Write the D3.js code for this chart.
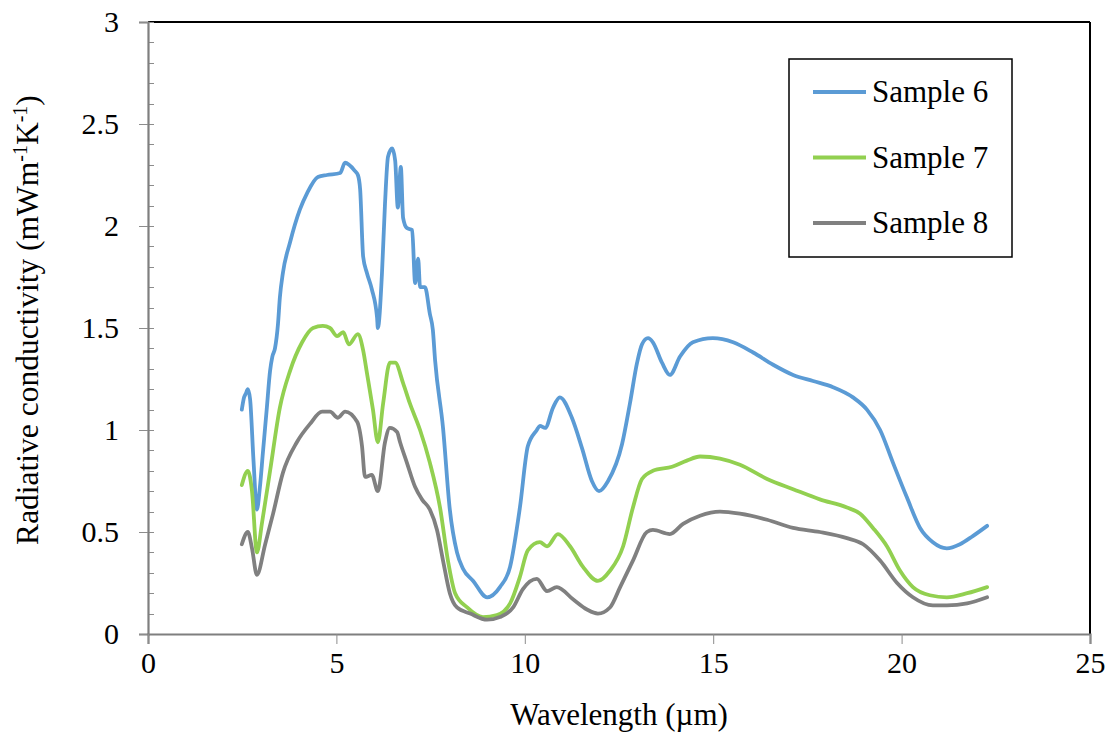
<!DOCTYPE html>
<html>
<head>
<meta charset="utf-8">
<script src="https://cdn.jsdelivr.net/npm/d3@7"></script>
<style>
  html, body { margin: 0; padding: 0; background: #fff; }
  svg { display: block; font-family: "Liberation Serif", "Times New Roman", serif; }
</style>
</head>
<body>
<svg id="chart" width="1113" height="735"></svg>
<script>
// ---- data ----
const seriesNames = ["Sample 6", "Sample 7", "Sample 8"];
const seriesColors = ["#5B9BD5", "#92D050", "#808080"];

const sample6 = [
  [2.49,1.10],[2.55,1.16],[2.60,1.18],[2.65,1.20],[2.71,1.15],[2.80,0.85],[2.89,0.61],[2.97,0.72],
  [3.05,0.89],[3.15,1.10],[3.24,1.29],[3.30,1.36],[3.37,1.40],[3.45,1.52],[3.50,1.65],[3.58,1.77],
  [3.77,1.92],[4.03,2.08],[4.22,2.16],[4.51,2.24],[4.75,2.25],[5.10,2.26],[5.23,2.31],[5.49,2.27],
  [5.57,2.25],[5.63,2.18],[5.71,1.85],[5.81,1.77],[5.94,1.69],[6.08,1.55],[6.10,1.50],[6.21,1.77],
  [6.29,2.11],[6.37,2.34],[6.48,2.38],[6.56,2.32],[6.63,2.09],[6.71,2.29],[6.77,2.04],[6.87,1.99],
  [7.01,1.98],[7.09,1.72],[7.17,1.84],[7.22,1.70],[7.35,1.70],[7.48,1.57],[7.56,1.49],[7.62,1.34],
  [7.83,1.01],[8.01,0.61],[8.20,0.40],[8.36,0.32],[8.63,0.26],[9.00,0.18],[9.34,0.23],[9.61,0.33],
  [9.87,0.62],[10.08,0.92],[10.32,1.00],[10.40,1.02],[10.54,1.01],[10.75,1.11],[10.93,1.16],
  [11.25,1.06],[11.52,0.91],[11.78,0.75],[11.97,0.70],[12.21,0.75],[12.58,0.93],[12.79,1.13],
  [12.98,1.33],[13.11,1.42],[13.27,1.45],[13.40,1.43],[13.64,1.33],[13.85,1.27],[14.12,1.36],
  [14.46,1.43],[14.99,1.45],[15.53,1.43],[16.06,1.38],[16.59,1.32],[17.12,1.27],[17.65,1.24],
  [18.18,1.21],[18.71,1.16],[19.08,1.10],[19.43,1.00],[19.77,0.84],[20.14,0.67],[20.49,0.52],
  [20.83,0.45],[21.20,0.42],[21.55,0.44],[21.89,0.48],[22.27,0.53]
];

const sample7 = [
  [2.49,0.73],[2.65,0.80],[2.76,0.70],[2.89,0.40],[3.03,0.55],[3.24,0.80],[3.50,1.11],[3.77,1.29],
  [4.09,1.43],[4.38,1.50],[4.64,1.51],[4.83,1.50],[5.02,1.46],[5.18,1.48],[5.33,1.42],[5.57,1.47],
  [5.71,1.39],[5.81,1.28],[5.97,1.10],[6.10,0.94],[6.24,1.13],[6.42,1.33],[6.56,1.33],[6.77,1.23],
  [6.95,1.13],[7.22,1.00],[7.48,0.84],[7.75,0.62],[7.96,0.36],[8.15,0.20],[8.47,0.13],[8.89,0.083],
  [9.26,0.093],[9.61,0.15],[9.87,0.28],[10.08,0.41],[10.40,0.45],[10.59,0.43],[10.88,0.49],
  [11.20,0.43],[11.54,0.33],[11.94,0.26],[12.26,0.31],[12.61,0.43],[12.87,0.62],[13.11,0.76],
  [13.40,0.80],[13.91,0.82],[14.30,0.85],[14.65,0.87],[15.18,0.86],[15.71,0.83],[16.43,0.76],
  [17.12,0.71],[17.83,0.66],[18.55,0.62],[18.90,0.59],[19.24,0.52],[19.61,0.43],[19.96,0.31],
  [20.30,0.23],[20.75,0.19],[21.20,0.18],[21.74,0.20],[22.27,0.23]
];

const sample8 = [
  [2.49,0.44],[2.65,0.50],[2.76,0.42],[2.89,0.29],[3.11,0.44],[3.32,0.59],[3.58,0.79],[3.95,0.94],
  [4.30,1.03],[4.62,1.09],[4.83,1.09],[5.04,1.06],[5.23,1.09],[5.55,1.04],[5.68,0.92],[5.76,0.77],
  [5.94,0.78],[6.10,0.70],[6.29,0.94],[6.42,1.01],[6.61,0.99],[6.69,0.94],[6.87,0.84],[7.09,0.72],
  [7.27,0.66],[7.48,0.61],[7.67,0.51],[7.83,0.36],[8.01,0.20],[8.20,0.13],[8.55,0.10],[9.00,0.07],
  [9.34,0.083],[9.69,0.13],[9.95,0.22],[10.32,0.27],[10.59,0.21],[10.85,0.23],[11.28,0.17],
  [11.65,0.12],[11.94,0.10],[12.26,0.13],[12.53,0.23],[12.87,0.36],[13.24,0.50],[13.40,0.51],
  [13.85,0.49],[14.20,0.54],[14.65,0.58],[15.18,0.60],[15.71,0.59],[16.43,0.56],[17.12,0.52],
  [17.83,0.50],[18.55,0.47],[18.98,0.44],[19.43,0.36],[19.88,0.25],[20.30,0.18],[20.83,0.14],
  [21.20,0.14],[21.74,0.15],[22.27,0.18]
];

const xTicks = [0, 5, 10, 15, 20, 25];
const yTicks = [0, 0.5, 1, 1.5, 2, 2.5, 3];
const yTickLabels = ["0", "0.5", "1", "1.5", "2", "2.5", "3"];
const yMinorTicks = d3.range(0, 3.0001, 0.1);

// ---- layout ----
const svg = d3.select("#chart");
const L = 148, R = 1090, T = 22, B = 634;
const x = d3.scaleLinear().domain([0, 25]).range([L, R]);
const y = d3.scaleLinear().domain([0, 3]).range([B, T]);

// frame (top & right black)
svg.append("line").attr("x1", L).attr("x2", R).attr("y1", T).attr("y2", T)
  .attr("stroke", "#000").attr("stroke-width", 2);
svg.append("line").attr("x1", R).attr("x2", R).attr("y1", T).attr("y2", B)
  .attr("stroke", "#000").attr("stroke-width", 2);

// minor y ticks (inside)
svg.append("g").selectAll("line").data(yMinorTicks).join("line")
  .attr("x1", L).attr("x2", L + 6)
  .attr("y1", d => Math.round(y(d)) + 0.5).attr("y2", d => Math.round(y(d)) + 0.5)
  .attr("stroke", "#8c8c8c").attr("stroke-width", 1);

// y axis
const yAxis = d3.axisLeft(y).tickValues(yTicks).tickSize(9).tickPadding(20)
  .tickFormat((d, i) => yTickLabels[i]);
const gy = svg.append("g").attr("transform", `translate(${L},0)`).call(yAxis);
gy.select(".domain").attr("stroke", "#7f7f7f").attr("stroke-width", 2.2);
gy.selectAll(".tick line").attr("stroke", "#8c8c8c");
gy.selectAll(".tick text").attr("font-size", 30).attr("fill", "#000")
  .attr("font-family", "Liberation Serif, Times New Roman, serif");

// x axis
const xAxis = d3.axisBottom(x).tickValues(xTicks).tickSize(10).tickPadding(8);
const gx = svg.append("g").attr("transform", `translate(0,${B})`).call(xAxis);
gx.select(".domain").attr("stroke", "#7f7f7f").attr("stroke-width", 2.2);
gx.selectAll(".tick line").attr("stroke", "#8c8c8c");
gx.selectAll(".tick text").attr("font-size", 30).attr("fill", "#000")
  .attr("font-family", "Liberation Serif, Times New Roman, serif");

// series
const series = [sample6, sample7, sample8];
const line = d3.line().x(d => x(d[0])).y(d => y(d[1])).curve(d3.curveMonotoneX);
svg.append("g").selectAll("path").data(series).join("path")
  .attr("d", line).attr("fill", "none")
  .attr("stroke", (d, i) => seriesColors[i]).attr("stroke-width", 3.8)
  .attr("stroke-linejoin", "round").attr("stroke-linecap", "round");

// axis titles
svg.append("text").attr("x", (L + R) / 2).attr("y", 725).attr("text-anchor", "middle")
  .attr("font-size", 31).text("Wavelength (µm)");

const yt = svg.append("text").attr("transform", "translate(38,320) rotate(-90)")
  .attr("text-anchor", "middle").attr("font-size", 31.5);
yt.append("tspan").text("Radiative conductivity (mWm");
yt.append("tspan").attr("font-size", 20).attr("dy", -11).text("-1");
yt.append("tspan").attr("dy", 11).text("K");
yt.append("tspan").attr("font-size", 20).attr("dy", -11).text("-1");
yt.append("tspan").attr("dy", 11).text(")");

// legend
const lg = svg.append("g");
lg.append("rect").attr("x", 789).attr("y", 59).attr("width", 223).attr("height", 198)
  .attr("fill", "#fff").attr("stroke", "#000").attr("stroke-width", 1.5);
const legendY = d3.scalePoint().domain(seriesNames).range([92, 223]);
seriesNames.forEach((name, i) => {
  lg.append("line").attr("x1", 813).attr("x2", 866)
    .attr("y1", legendY(name)).attr("y2", legendY(name))
    .attr("stroke", seriesColors[i]).attr("stroke-width", 3.8);
  lg.append("text").attr("x", 872).attr("y", legendY(name) + 10)
    .attr("font-size", 31).text(name);
});
</script>
</body>
</html>
